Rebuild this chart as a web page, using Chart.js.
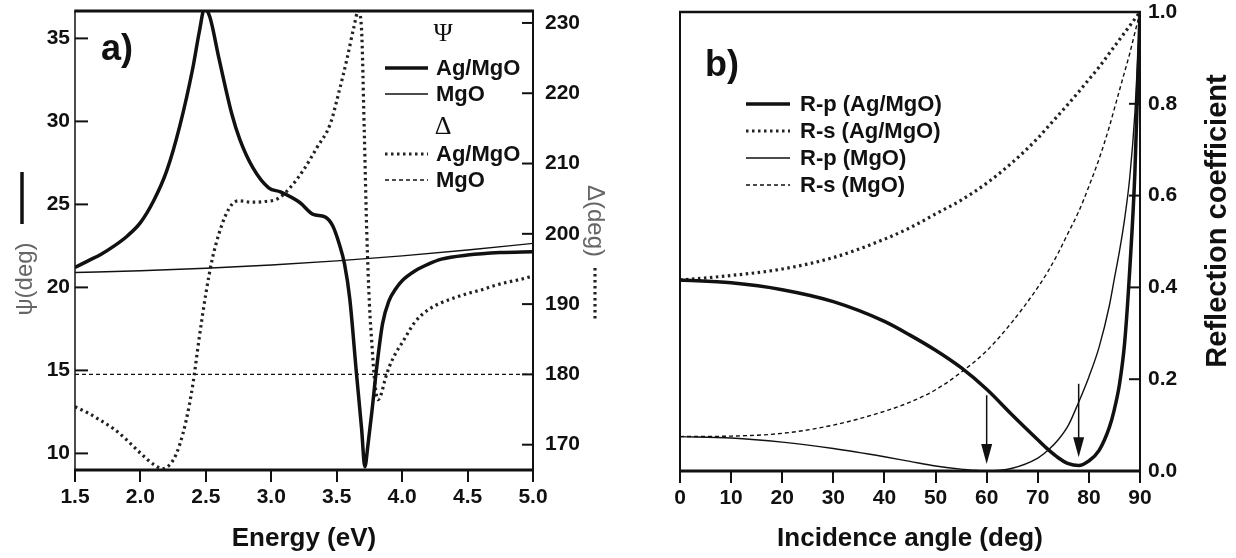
<!DOCTYPE html>
<html>
<head>
<meta charset="utf-8">
<script src="https://cdn.jsdelivr.net/npm/chart.js@4.4.0/dist/chart.umd.min.js"></script>
<style>
  body { margin: 0; background: #fff; width: 1236px; height: 558px; overflow: hidden; position: relative; }
  canvas { position: absolute; top: 0; }
  #chartA { left: 0; }
  #chartB { left: 620px; }
</style>
</head>
<body>
<canvas id="chartA" width="620" height="558"></canvas>
<canvas id="chartB" width="616" height="558"></canvas>
<script>
// a) ellipsometric angles against photon energy
const energyAg = [1.5, 1.6, 1.7, 1.8, 1.9, 2.0, 2.1, 2.2, 2.3, 2.4, 2.45, 2.49, 2.53, 2.6, 2.7, 2.76, 2.86, 2.98, 3.07, 3.22,
  3.32, 3.41, 3.47, 3.52, 3.56, 3.6, 3.65, 3.69, 3.715, 3.74, 3.77, 3.8, 3.85, 3.9, 3.95, 4.0, 4.1, 4.2, 4.3, 4.5, 4.75, 5.0];
const psiAg = [21.2, 21.6, 22.0, 22.5, 23.1, 23.9, 25.2, 27.0, 29.7, 33.2, 35.4, 36.8, 36.3, 33.8, 30.4, 28.9, 27.2, 26.0, 25.75, 25.1,
  24.4, 24.25, 23.7, 22.6, 21.4, 19.3, 14.9, 11.5, 9.2, 10.6, 12.6, 14.8, 17.8, 19.2, 19.9, 20.4, 21.0, 21.4, 21.7, 21.95, 22.1, 22.15];

const energyDelta = [1.5, 1.6, 1.7, 1.8, 1.9, 2.0, 2.1, 2.17, 2.25, 2.3, 2.35, 2.4, 2.45, 2.5, 2.55, 2.6, 2.65, 2.7, 2.75, 2.85,
  2.95, 3.05, 3.15, 3.25, 3.35, 3.45, 3.52, 3.58, 3.63, 3.665, 3.69, 3.71, 3.73, 3.75, 3.77, 3.79, 3.815, 3.84, 3.87, 3.9,
  3.95, 4.0, 4.1, 4.2, 4.3, 4.4, 4.5, 4.6, 4.7, 4.8, 4.9, 5.0];
const deltaAg = [175.4, 174.5, 173.4, 172.2, 170.6, 168.8, 167.2, 166.6, 167.8, 170.0, 173.5, 178.5, 185.3, 191.5, 196.5, 200.0, 202.6, 204.2, 204.7, 204.5,
  204.6, 205.0, 206.7, 209.2, 212.3, 215.6, 220.4, 225.0, 229.3, 231.7, 229.0, 215.0, 200.0, 190.0, 184.0, 179.0, 176.4, 177.2, 179.3, 181.0,
  183.0, 184.5, 187.5, 189.2, 190.2, 190.9, 191.5, 192.0, 192.6, 193.1, 193.5, 194.0];

const energyMgO = [1.5, 2.0, 2.5, 3.0, 3.5, 4.0, 4.5, 5.0];
const psiMgO = [20.9, 21.0, 21.15, 21.35, 21.6, 21.9, 22.25, 22.65];
const deltaMgO = [180, 180, 180, 180, 180, 180, 180, 180];

// b) reflection coefficients against incidence angle
const angles = [0, 10, 20, 30, 40, 45, 50, 55, 60, 65, 70, 72, 74, 76, 78, 80, 82, 84, 85, 86, 87, 88, 89, 90];
const rpAg = [0.416, 0.41, 0.395, 0.369, 0.326, 0.296, 0.263, 0.225, 0.178, 0.122, 0.068, 0.047, 0.029, 0.016, 0.012, 0.022, 0.045, 0.095, 0.135, 0.19, 0.28, 0.44, 0.65, 1.0];
const rsAg = [0.416, 0.426, 0.44, 0.465, 0.505, 0.53, 0.56, 0.59, 0.627, 0.672, 0.725, 0.75, 0.775, 0.8, 0.826, 0.853, 0.88, 0.91, 0.925, 0.94, 0.955, 0.97, 0.985, 1.0];
const rpMgO = [0.075, 0.072, 0.063, 0.049, 0.031, 0.021, 0.011, 0.004, 0.0, 0.006, 0.028, 0.045, 0.068, 0.1, 0.15, 0.205, 0.27, 0.36, 0.42, 0.48, 0.55, 0.64, 0.78, 1.0];
const rsMgO = [0.075, 0.076, 0.082, 0.1, 0.13, 0.15, 0.177, 0.215, 0.262, 0.325, 0.4, 0.435, 0.475, 0.52, 0.565, 0.62, 0.68, 0.75, 0.79, 0.83, 0.87, 0.91, 0.955, 1.0];

// arrows marking the p-minima
const arrowAngles = [60, 78];
const arrowFrom = [0.165, 0.19];
const arrowTo = [0.015, 0.03];

const INK = '#111';
const FONT = "'Liberation Sans', Arial, sans-serif";
Chart.defaults.font.family = FONT;
Chart.defaults.color = INK;

const toPoints = (xs, ys) => xs.map((x, i) => ({ x: x, y: ys[i] }));

// y axes: fixed width, no extra room for the end labels
const fixY = w => s => { s.width = w; s.paddingTop = 0; s.paddingBottom = 0; };

// frame of the plot area + ticks pointing into the plot
const frame = {
  id: 'frame',
  afterDatasetsDraw(chart, args, opts) {
    const { ctx, chartArea: a } = chart;
    const w = opts.widths;
    ctx.save();
    ctx.strokeStyle = INK;
    const line = (lw, x1, y1, x2, y2) => {
      ctx.lineWidth = lw;
      ctx.beginPath();
      ctx.moveTo(x1, y1);
      ctx.lineTo(x2, y2);
      ctx.stroke();
    };
    line(w.top, a.left - w.left / 2, a.top, a.right + w.right / 2, a.top);
    line(w.bottom, a.left - w.left / 2, a.bottom, a.right + w.right / 2, a.bottom);
    line(w.left, a.left, a.top, a.left, a.bottom);
    line(w.right, a.right, a.top, a.right, a.bottom);
    (opts.inward || []).forEach(t => {
      const s = chart.scales[t.id];
      s.ticks.forEach(tk => {
        const y = s.getPixelForValue(tk.value);
        if (s.position === 'left') line(2, a.left, y, a.left + t.len, y);
        else line(2, a.right - t.len, y, a.right, y);
      });
    });
    ctx.restore();
  }
};

// legend inside the plot, rows placed by hand
const panelLegend = {
  id: 'panelLegend',
  afterDraw(chart, args, opts) {
    const { ctx } = chart;
    ctx.save();
    ctx.textBaseline = 'middle';
    opts.rows.forEach(r => {
      if (r.head) {
        ctx.font = opts.headFont;
        ctx.fillStyle = INK;
        ctx.textAlign = 'center';
        ctx.fillText(r.head, opts.headX, r.y);
        return;
      }
      const ds = chart.data.datasets[r.ds];
      ctx.strokeStyle = ds.borderColor;
      ctx.lineWidth = ds.borderWidth;
      ctx.setLineDash(ds.borderDash || []);
      ctx.beginPath();
      ctx.moveTo(opts.x1, r.y);
      ctx.lineTo(opts.x2, r.y);
      ctx.stroke();
      ctx.setLineDash([]);
      ctx.font = opts.font;
      ctx.fillStyle = INK;
      ctx.textAlign = 'left';
      ctx.fillText(ds.label, opts.textX, r.y + 1);
    });
    ctx.restore();
  }
};

// rotated side titles, optionally with a short sample of a dataset's line
const sideTitles = {
  id: 'sideTitles',
  afterDraw(chart, args, opts) {
    const { ctx } = chart;
    opts.items.forEach(it => {
      ctx.save();
      ctx.translate(it.x, it.y);
      ctx.rotate(it.rot);
      ctx.font = it.font;
      ctx.fillStyle = it.color;
      ctx.textAlign = 'center';
      ctx.textBaseline = 'middle';
      ctx.fillText(it.text, 0, 0);
      ctx.restore();
      if (it.sample) {
        const ds = chart.data.datasets[it.sample.ds];
        ctx.save();
        ctx.strokeStyle = ds.borderColor;
        ctx.lineWidth = ds.borderWidth;
        ctx.setLineDash(ds.borderDash || []);
        ctx.beginPath();
        ctx.moveTo(it.sample.x, it.sample.y1);
        ctx.lineTo(it.sample.x, it.sample.y2);
        ctx.stroke();
        ctx.restore();
      }
    });
    opts.labels.forEach(l => {
      ctx.save();
      ctx.font = l.font;
      ctx.fillStyle = INK;
      ctx.textBaseline = 'alphabetic';
      ctx.fillText(l.text, l.x, l.y);
      ctx.restore();
    });
  }
};

// vertical arrows read from the data arrays
const arrows = {
  id: 'arrows',
  afterDatasetsDraw(chart) {
    const { ctx } = chart;
    const xs = chart.scales.x, ys = chart.scales.y;
    ctx.save();
    ctx.strokeStyle = INK;
    ctx.fillStyle = INK;
    ctx.lineWidth = 1.5;
    arrowAngles.forEach((ang, i) => {
      const x = xs.getPixelForValue(ang);
      const y1 = ys.getPixelForValue(arrowFrom[i]);
      const y2 = ys.getPixelForValue(arrowTo[i]);
      ctx.beginPath();
      ctx.moveTo(x, y1);
      ctx.lineTo(x, y2 - 18);
      ctx.stroke();
      ctx.beginPath();
      ctx.moveTo(x - 5.5, y2 - 20);
      ctx.lineTo(x + 5.5, y2 - 20);
      ctx.lineTo(x, y2);
      ctx.closePath();
      ctx.fill();
    });
    ctx.restore();
  }
};

const tickFont = { size: 21, weight: 'bold' };
const titleFont = { size: 26, weight: 'bold' };
const bottomGrid = { drawOnChartArea: false, drawTicks: true, tickLength: 12, lineWidth: 2, color: INK };
const noGrid = { display: false, drawTicks: false };

new Chart(document.getElementById('chartA'), {
  type: 'line',
  data: {
    datasets: [
      { label: 'Ag/MgO', data: toPoints(energyAg, psiAg), yAxisID: 'y', borderColor: INK, borderWidth: 3.5 },
      { label: 'MgO', data: toPoints(energyMgO, psiMgO), yAxisID: 'y', borderColor: INK, borderWidth: 1.4 },
      { label: 'Ag/MgO', data: toPoints(energyDelta, deltaAg), yAxisID: 'y1', borderColor: '#222', borderWidth: 3.2, borderDash: [2.5, 3.5] },
      { label: 'MgO', data: toPoints(energyMgO, deltaMgO), yAxisID: 'y1', borderColor: INK, borderWidth: 1.4, borderDash: [4, 3] }
    ]
  },
  options: {
    responsive: false,
    animation: false,
    devicePixelRatio: 1,
    layout: { padding: { top: 11, left: 0, right: 0, bottom: 0 } },
    elements: { point: { radius: 0 }, line: { cubicInterpolationMode: 'monotone', fill: false } },
    plugins: {
      legend: { display: false },
      tooltip: { enabled: false },
      frame: { widths: { top: 3, bottom: 3, left: 1.5, right: 2 }, inward: [{ id: 'y', len: 13 }, { id: 'y1', len: 11 }] },
      panelLegend: {
        headFont: "26px 'Liberation Serif', 'DejaVu Serif', serif",
        headX: 443,
        font: "bold 22px " + FONT,
        x1: 385, x2: 428, textX: 436,
        rows: [{ head: 'Ψ', y: 34 }, { ds: 0, y: 68 }, { ds: 1, y: 94 }, { head: 'Δ', y: 127 }, { ds: 2, y: 154 }, { ds: 3, y: 180 }]
      },
      sideTitles: {
        items: [
          { text: 'ψ(deg)', x: 25, y: 279, rot: -Math.PI / 2, font: "24px " + FONT, color: '#666',
            sample: { ds: 0, x: 22, y1: 172, y2: 224 } },
          { text: 'Δ(deg)', x: 595, y: 221, rot: Math.PI / 2, font: "24px " + FONT, color: '#666',
            sample: { ds: 2, x: 595, y1: 268, y2: 322 } }
        ],
        labels: [{ text: 'a)', x: 101, y: 60, font: "bold 36px " + FONT }]
      }
    },
    scales: {
      x: {
        type: 'linear', min: 1.5, max: 5,
        ticks: { stepSize: 0.5, callback: v => v.toFixed(1), font: tickFont, color: INK, padding: 3 },
        grid: bottomGrid,
        border: { display: false },
        title: { display: true, text: 'Energy (eV)', font: titleFont, color: INK, padding: { top: 0, bottom: 4 } },
        afterFit: s => { s.height = 88; }
      },
      y: {
        position: 'left', min: 9, max: 36.65,
        ticks: { stepSize: 5, includeBounds: false, font: tickFont, color: INK, padding: 5 },
        grid: noGrid,
        border: { display: false },
        afterFit: fixY(75)
      },
      y1: {
        position: 'right', min: 166.4, max: 231.7,
        ticks: { stepSize: 10, includeBounds: false, font: tickFont, color: INK, padding: 12 },
        grid: noGrid,
        border: { display: false },
        afterFit: fixY(87)
      }
    }
  },
  plugins: [frame, panelLegend, sideTitles]
});

new Chart(document.getElementById('chartB'), {
  type: 'line',
  data: {
    datasets: [
      { label: 'R-p (Ag/MgO)', data: toPoints(angles, rpAg), borderColor: INK, borderWidth: 3.5 },
      { label: 'R-s (Ag/MgO)', data: toPoints(angles, rsAg), borderColor: '#222', borderWidth: 3.2, borderDash: [2.5, 3.5] },
      { label: 'R-p (MgO)', data: toPoints(angles, rpMgO), borderColor: INK, borderWidth: 1.4 },
      { label: 'R-s (MgO)', data: toPoints(angles, rsMgO), borderColor: INK, borderWidth: 1.4, borderDash: [4, 3] }
    ]
  },
  options: {
    responsive: false,
    animation: false,
    devicePixelRatio: 1,
    layout: { padding: { top: 12, left: 60, right: 0, bottom: 0 } },
    elements: { point: { radius: 0 }, line: { cubicInterpolationMode: 'monotone', fill: false } },
    plugins: {
      legend: { display: false },
      tooltip: { enabled: false },
      frame: { widths: { top: 2.5, bottom: 3, left: 2, right: 2 }, inward: [{ id: 'y', len: 11 }] },
      panelLegend: {
        headFont: "22px 'Liberation Serif', serif",
        headX: 0,
        font: "bold 22px " + FONT,
        x1: 126, x2: 170, textX: 180,
        rows: [{ ds: 0, y: 104 }, { ds: 1, y: 131 }, { ds: 2, y: 158 }, { ds: 3, y: 185 }]
      },
      sideTitles: {
        items: [
          { text: 'Reflection coefficient', x: 598, y: 221, rot: -Math.PI / 2, font: "bold 29px " + FONT, color: INK }
        ],
        labels: [{ text: 'b)', x: 85, y: 76, font: "bold 36px " + FONT }]
      }
    },
    scales: {
      x: {
        type: 'linear', min: 0, max: 90,
        ticks: { stepSize: 10, font: tickFont, color: INK, padding: 3 },
        grid: bottomGrid,
        border: { display: false },
        title: { display: true, text: 'Incidence angle (deg)', font: titleFont, color: INK, padding: { top: 0, bottom: 4 } },
        afterFit: s => { s.height = 87; }
      },
      y: {
        position: 'right', min: 0, max: 1,
        ticks: { stepSize: 0.2, includeBounds: false, callback: v => v.toFixed(1), font: tickFont, color: INK, padding: 8 },
        grid: noGrid,
        border: { display: false },
        afterFit: fixY(96)
      }
    }
  },
  plugins: [frame, panelLegend, sideTitles, arrows]
});
</script>
</body>
</html>
